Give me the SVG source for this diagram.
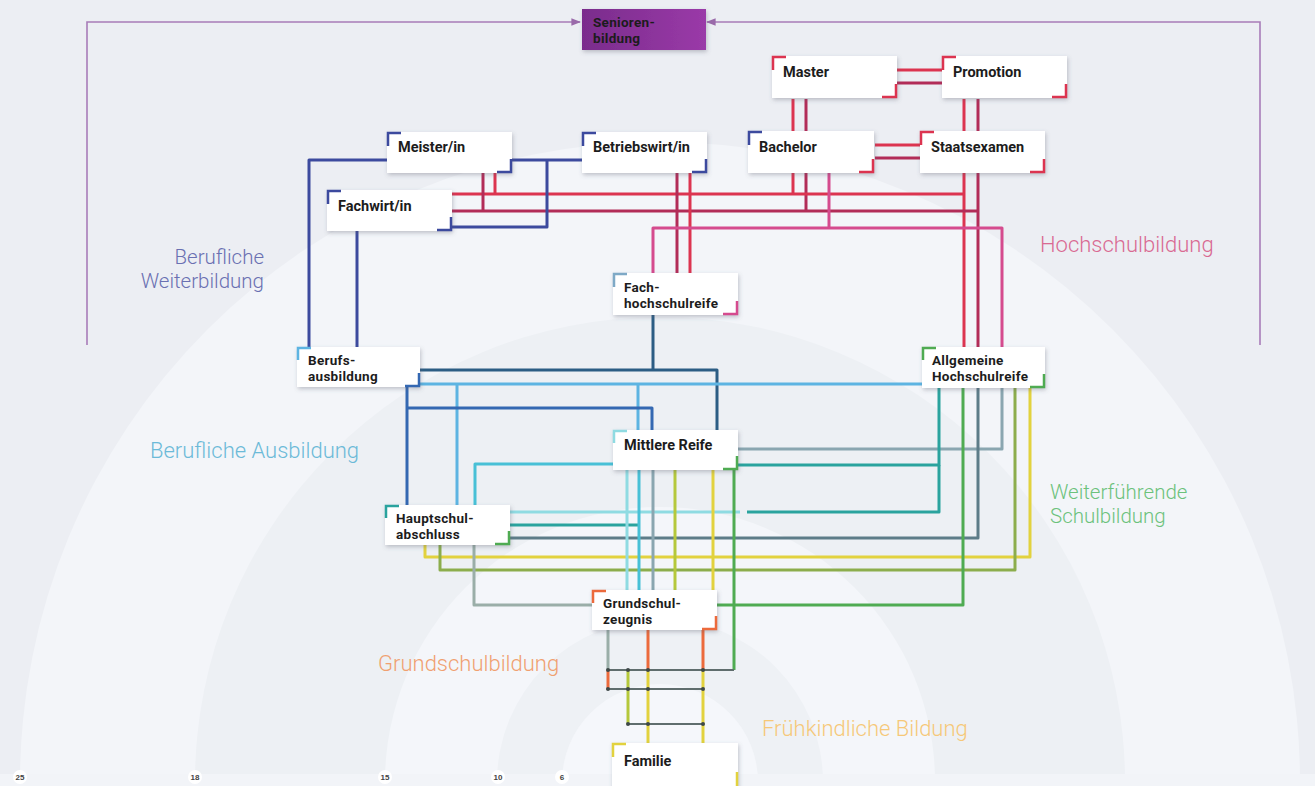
<svg xmlns="http://www.w3.org/2000/svg" width="1315" height="786" viewBox="0 0 1315 786">
<defs>
<filter id="sh" x="-10%" y="-10%" width="130%" height="140%"><feDropShadow dx="1" dy="2" stdDeviation="2" flood-color="#5a6070" flood-opacity="0.35"/></filter>
<linearGradient id="pg" x1="0" y1="0" x2="1" y2="0"><stop offset="0" stop-color="#7a2c8c"/><stop offset="1" stop-color="#9a3aa8"/></linearGradient>
<marker id="ar" viewBox="0 0 10 10" refX="9" refY="5" markerWidth="6" markerHeight="6" orient="auto"><path d="M0,1 L10,5 L0,9 z" fill="#9a6aaa"/></marker>
<style>
.box{fill:#fff;filter:url(#sh)}
.t{font-family:Roboto,"Liberation Sans",sans-serif;font-weight:700;font-size:14.5px;fill:#1c1c1c}
.t2{font-family:Roboto,"Liberation Sans",sans-serif;font-weight:700;font-size:13.5px;letter-spacing:0.3px;fill:#1c1c1c}
.sec{font-family:Roboto,"Liberation Sans",sans-serif;font-weight:300;font-size:22px}
.sec2{font-family:Roboto,"Liberation Sans",sans-serif;font-weight:300;font-size:20.5px}
.c{fill:none;stroke-width:3;stroke-linejoin:round}
.k{fill:none;stroke-width:2.5}
.red{stroke:#dc3450}.crim{stroke:#b22c58}.pink{stroke:#d54b8e}.navy{stroke:#3c4a9e}
.dteal{stroke:#2c5d84}.lblue{stroke:#5db4e2}.blue{stroke:#3468b2}.cyan{stroke:#48c0d6}
.lcyan{stroke:#8fdbe2}.teal{stroke:#2aa39e}.gblue{stroke:#8aa6b0}.gray{stroke:#5d7c88}
.ygreen{stroke:#b5c83c}.yellow{stroke:#e2d23e}.olive{stroke:#8cad4c}.green{stroke:#4fab52}
.ggreen{stroke:#9aaea8}.orange{stroke:#ec6a3c}.dgray{stroke:#5f6d6d;stroke-width:2}
.tick{font-family:"Liberation Sans",sans-serif;font-size:8px;font-weight:700;fill:#444;text-anchor:middle}
</style>
</defs>
<rect width="1315" height="786" fill="#eceef3"/>
<g id="bands">
<circle cx="660" cy="782" r="640" fill="#f3f5f9"/>
<circle cx="660" cy="782" r="465" fill="#edf0f4"/>
<circle cx="660" cy="782" r="275" fill="#f4f6fa"/>
<circle cx="660" cy="782" r="163" fill="#eef1f5"/>
<circle cx="660" cy="782" r="98" fill="#f5f7fb"/>
<rect x="0" y="774" width="1315" height="12" fill="#f2f4f8"/>
</g>
<g id="axis">
<circle cx="20" cy="777" r="7" fill="#fff"/><text class="tick" x="20" y="780">25</text>
<circle cx="195" cy="777" r="7" fill="#fff"/><text class="tick" x="195" y="780">18</text>
<circle cx="385" cy="777" r="7" fill="#fff"/><text class="tick" x="385" y="780">15</text>
<circle cx="498" cy="777" r="7" fill="#fff"/><text class="tick" x="498" y="780">10</text>
<circle cx="562" cy="777" r="7" fill="#fff"/><text class="tick" x="562" y="780">6</text>
</g>
<g id="labels">
<text class="sec2" fill="#6a70b2" text-anchor="end" x="264" y="264">Berufliche</text>
<text class="sec2" fill="#6a70b2" text-anchor="end" x="264" y="288">Weiterbildung</text>
<text class="sec" fill="#d96a92" x="1040" y="252">Hochschulbildung</text>
<text class="sec" fill="#6cbad8" x="150" y="458">Berufliche Ausbildung</text>
<text class="sec2" fill="#6cc27c" x="1050" y="499">Weiterführende</text>
<text class="sec2" fill="#6cc27c" x="1050" y="523">Schulbildung</text>
<text class="sec" fill="#f0a070" x="378" y="671">Grundschulbildung</text>
<text class="sec" fill="#f6c878" x="762" y="736">Frühkindliche Bildung</text>
</g>
<g id="connectors">
<path d="M87,345 V22 H580" fill="none" stroke="#a87cb8" stroke-width="1.6" marker-end="url(#ar)"/>
<path d="M1260,345 V22 H707" fill="none" stroke="#a87cb8" stroke-width="1.6" marker-end="url(#ar)"/>
<path class="c red" d="M897,70 H942"/><path class="c crim" d="M897,83 H942"/>
<path class="c red" d="M793,99 V131"/><path class="c crim" d="M806,99 V131"/>
<path class="c red" d="M875,145 H920"/><path class="c crim" d="M875,158 H920"/>
<path class="c red" d="M964,99 V347"/><path class="c crim" d="M978,99 V347"/>
<path class="c red" d="M793,173 V194"/><path class="c crim" d="M806,173 V211"/>
<path class="c red" d="M452,194 H964"/><path class="c crim" d="M452,211 H978"/>
<path class="c crim" d="M483,173 V211"/><path class="c red" d="M495,173 V194"/>
<path class="c crim" d="M677,173 V273"/><path class="c red" d="M690,173 V273"/>
<path class="c pink" d="M653,273 V228 H1002 V347"/><path class="c pink" d="M829,173 V228"/>
<path class="c navy" d="M387,160 H309 V347"/>
<path class="c navy" d="M512,160 H582"/>
<path class="c navy" d="M547,160 V227 H452"/>
<path class="c navy" d="M357,231 V347"/>
<path class="c dteal" d="M653,315 V370"/>
<path class="c dteal" d="M420,370 H717 V430"/>
<path class="c lblue" d="M420,384 H922"/><path class="c lblue" d="M638,384 V430"/><path class="c lblue" d="M457,384 V505"/>
<path class="c blue" d="M407,387 V505"/><path class="c blue" d="M407,408 H652 V430"/>
<path class="c cyan" d="M613,464 H475 V505"/>
<path class="c gblue" d="M738,449 H1002 V388"/>
<path class="c teal" d="M738,465 H939 V388"/>
<path class="c teal" d="M747,512 H939 V465"/>
<path class="c lcyan" d="M510,512 H740"/>
<path class="c teal" d="M510,525 H639"/>
<path class="c gray" d="M510,538 H978 V388"/>
<path class="c yellow" d="M425,545 V557 H1030 V388"/>
<path class="c olive" d="M440,545 V570 H1015 V388"/>
<path class="c ggreen" d="M474,545 V605 H592"/>
<path class="c green" d="M963,388 V605 H717"/>
<path class="c lcyan" d="M627,470 V590"/>
<path class="c cyan" d="M639,470 V590"/>
<path class="c gblue" d="M653,470 V590"/>
<path class="c ygreen" d="M675,470 V590"/>
<path class="c yellow" d="M713,470 V590"/>
<path class="c green" d="M734,470 V670"/>
<path class="c ggreen" d="M608,630 V670"/><path class="c orange" d="M608,670 V690"/>
<path class="c ygreen" d="M628,670 V724"/>
<path class="c orange" d="M648,630 V670"/><path class="c yellow" d="M648,670 V743"/>
<path class="c orange" d="M703,630 V670"/><path class="c yellow" d="M703,670 V743"/>
<path class="dgray" d="M608,670 H734"/><path class="dgray" d="M608,689 H703"/><path class="dgray" d="M628,724 H703"/>
<g fill="#3e4848">
<circle cx="608" cy="670" r="2"/><circle cx="628" cy="670" r="2"/><circle cx="648" cy="670" r="2"/><circle cx="703" cy="670" r="2"/>
<circle cx="608" cy="689" r="2"/><circle cx="628" cy="689" r="2"/><circle cx="648" cy="689" r="2"/><circle cx="703" cy="689" r="2"/>
<circle cx="628" cy="724" r="2"/><circle cx="648" cy="724" r="2"/><circle cx="703" cy="724" r="2"/>
</g>
</g>
<g id="n-senioren"><rect x="582" y="9" width="124" height="41" fill="url(#pg)" filter="url(#sh)"/><text class="t2" x="593" y="27">Senioren-</text><text class="t2" x="593" y="43">bildung</text></g>
<g id="n-master"><rect class="box" x="772" y="56" width="125" height="42"/><path class="k red" d="M773,70 V57 H786 M896,84 V97 H882"/><text class="t" x="783" y="77">Master</text></g>
<g id="n-promotion"><rect class="box" x="942" y="56" width="125" height="42"/><path class="k red" d="M943,70 V57 H956 M1066,84 V97 H1052"/><text class="t" x="953" y="77">Promotion</text></g>
<g id="n-bachelor"><rect class="box" x="748" y="131" width="126" height="42"/><path class="k navy" d="M749,145 V132 H762"/><path class="k red" d="M873,159 V172 H859"/><text class="t" x="759" y="152">Bachelor</text></g>
<g id="n-staatsexamen"><rect class="box" x="920" y="131" width="125" height="42"/><path class="k red" d="M921,145 V132 H934 M1044,159 V172 H1030"/><text class="t" x="931" y="152">Staatsexamen</text></g>
<g id="n-meister"><rect class="box" x="387" y="132" width="125" height="41"/><path class="k navy" d="M388,146 V133 H401 M511,159 V172 H497"/><text class="t" x="398" y="152">Meister/in</text></g>
<g id="n-betriebswirt"><rect class="box" x="582" y="132" width="125" height="41"/><path class="k navy" d="M583,146 V133 H596 M706,159 V172 H692"/><text class="t" x="593" y="152">Betriebswirt/in</text></g>
<g id="n-fachwirt"><rect class="box" x="327" y="190" width="125" height="41"/><path class="k navy" d="M328,204 V191 H341 M451,217 V230 H437"/><text class="t" x="338" y="211">Fachwirt/in</text></g>
<g id="n-fhr"><rect class="box" x="613" y="273" width="125" height="42"/><path class="k" stroke="#7ea9c6" d="M614,287 V274 H627"/><path class="k pink" d="M737,301 V314 H723"/><text class="t2" x="624" y="292">Fach-</text><text class="t2" x="624" y="308">hochschulreife</text></g>
<g id="n-berufsausbildung"><rect class="box" x="297" y="347" width="123" height="40"/><path class="k lblue" d="M298,360 V348 H311"/><path class="k blue" d="M419,373 V386 H405"/><text class="t2" x="308" y="365">Berufs-</text><text class="t2" x="308" y="381">ausbildung</text></g>
<g id="n-ahr"><rect class="box" x="922" y="347" width="123" height="41"/><path class="k green" d="M923,360 V348 H936 M1044,374 V387 H1030"/><text class="t2" x="932" y="365">Allgemeine</text><text class="t2" x="932" y="381">Hochschulreife</text></g>
<g id="n-mittlere"><rect class="box" x="613" y="430" width="125" height="40"/><path class="k lcyan" d="M614,443 V431 H627"/><path class="k green" d="M737,456 V469 H723"/><text class="t" x="624" y="450">Mittlere Reife</text></g>
<g id="n-hauptschul"><rect class="box" x="385" y="505" width="125" height="40"/><path class="k teal" d="M386,518 V506 H399"/><path class="k green" d="M509,531 V544 H495"/><text class="t2" x="396" y="523">Hauptschul-</text><text class="t2" x="396" y="539">abschluss</text></g>
<g id="n-grundschul"><rect class="box" x="592" y="590" width="125" height="40"/><path class="k orange" d="M593,603 V591 H606 M716,616 V629 H702"/><text class="t2" x="603" y="608">Grundschul-</text><text class="t2" x="603" y="624">zeugnis</text></g>
<g id="n-familie"><rect class="box" x="612" y="743" width="126" height="45"/><path class="k yellow" d="M613,757 V744 H626 M737,772 V786"/><text class="t" x="624" y="766">Familie</text></g>
</svg>
